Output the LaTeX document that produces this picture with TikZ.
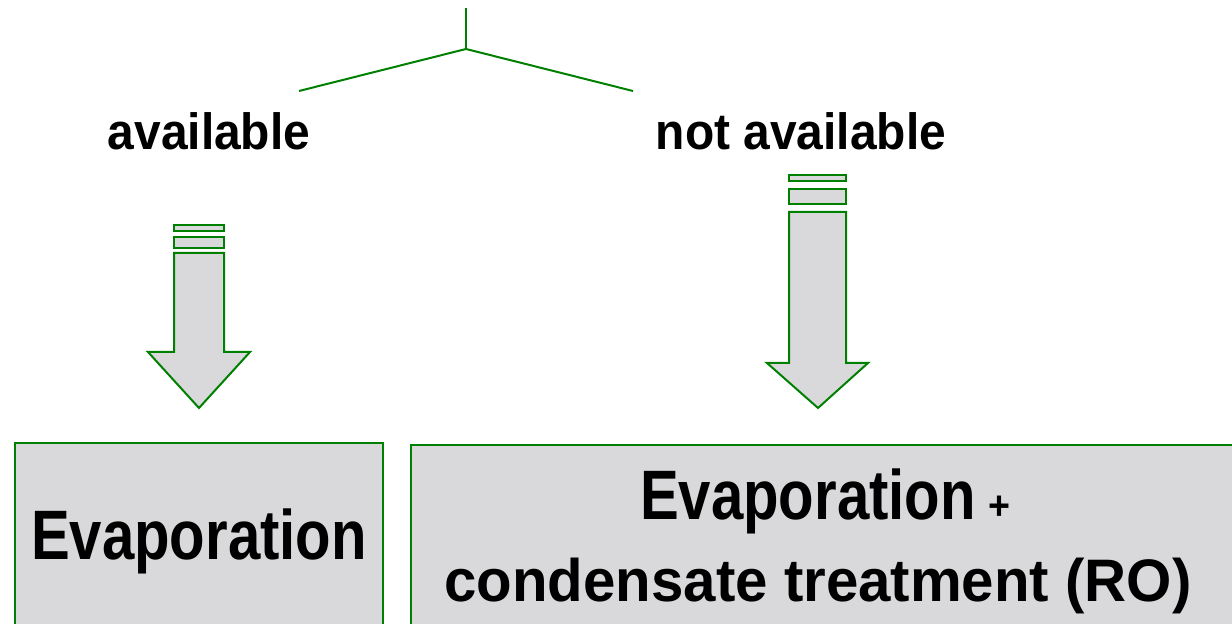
\documentclass[tikz,border=0pt]{standalone}
\usepackage{fontspec}
\usepackage{tikz}
\newfontfamily\choicefont[FakeStretch=0.94]{Liberation Sans}
\newfontfamily\boxfont[FakeStretch=0.83]{Liberation Sans}
\newfontfamily\wideboxfont[FakeStretch=0.97]{Liberation Sans}
\definecolor{linegreen}{RGB}{0,128,0}
\definecolor{boxgray}{RGB}{217,217,220}
\tikzstyle{branch} = [draw=linegreen, line width=1pt]
\tikzstyle{block} = [draw=linegreen, fill=boxgray, line width=1pt]
\tikzstyle{choice} = [inner sep=0pt, anchor=base,
    font=\choicefont\bfseries\fontsize{25.5}{30}\selectfont]
\tikzstyle{boxtext} = [inner sep=0pt, anchor=base,
    font=\boxfont\bfseries\fontsize{35}{40}\selectfont]
\tikzstyle{widetext} = [inner sep=0pt, anchor=base,
    font=\wideboxfont\bfseries\fontsize{30}{36}\selectfont]
\tikzstyle{plusmark} = [inner sep=0pt, anchor=base west,
    font=\choicefont\bfseries\fontsize{20}{22}\selectfont]

\begin{document}
\begin{tikzpicture}[x=0.5pt, y=-0.5pt]
    \useasboundingbox (0,0) rectangle (1232,624);
    \clip (0,0) rectangle (1232,624);

    % % % % % % % % % % % % % % % % % % % % % % %
    % Decision tree
    % % % % % % % % % % % % % % % % % % % % % % %
    \coordinate (root) at (466,8);
    \coordinate (fork) at (466,49);
    \coordinate (leftend) at (299,91);
    \coordinate (rightend) at (633,91);
    \draw [branch] (root) -- (fork);
    \draw [branch] (fork) -- (leftend);
    \draw [branch] (fork) -- (rightend);

    % the two cases
    \node [choice] (avail) at (209,150) {available};
    \node [choice] (notavail) at (801,150) {not available};

    % % % % % % % % % % % % % % % % % % % % % % %
    % Block arrows
    % % % % % % % % % % % % % % % % % % % % % % %
    % left one
    \draw [block] (174,225) rectangle (224,231);
    \draw [block] (174,237) rectangle (224,248);
    \draw [block] (174,253) -- (174,352) -- (148,352) -- (199,408)
        -- (250,352) -- (224,352) -- (224,253) -- cycle;

    % right one
    \draw [block] (789,175) rectangle (846,181);
    \draw [block] (789,189) rectangle (846,204);
    \draw [block] (789,212) -- (789,363) -- (767,363) -- (818,408)
        -- (868,363) -- (846,363) -- (846,212) -- cycle;

    % % % % % % % % % % % % % % % % % % % % % % %
    % Result boxes
    % % % % % % % % % % % % % % % % % % % % % % %
    \draw [block] (15,443) rectangle (383,700);
    \draw [block] (411,445) rectangle (1300,700);

    \node [boxtext] (evapL) at (199,560) {Evaporation};
    \node [boxtext] (evapR) at (808,520) {Evaporation};
    \node [plusmark] (plus) at ([xshift=6pt]evapR.base east) {+};
    \node [widetext] (condens) at (818,602) {condensate treatment (RO)};
\end{tikzpicture}
\end{document}
